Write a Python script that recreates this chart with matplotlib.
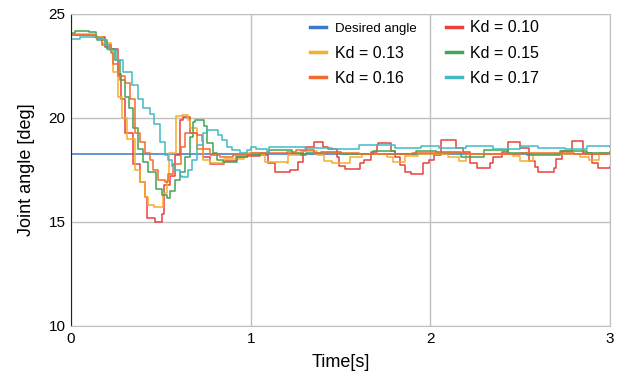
import matplotlib.pyplot as plt
import numpy as np

plt.rcParams['font.family'] = ['Liberation Sans', 'DejaVu Sans']

# desired angle [deg]
desired = 18.27

# Kd = 0.10
t_010 = [0, 0.13, 0.19, 0.22, 0.26, 0.28, 0.30, 0.345, 0.385, 0.41, 0.425, 0.465, 0.505,
         0.515, 0.55, 0.58, 0.605, 0.625, 0.66, 0.70, 0.735, 0.775, 0.85, 0.92, 0.98, 1.05,
         1.095, 1.135, 1.22, 1.265, 1.29, 1.31, 1.35, 1.40, 1.43, 1.48, 1.49, 1.525, 1.61,
         1.63, 1.67, 1.70, 1.71, 1.78, 1.80, 1.83, 1.86, 1.89, 1.96, 1.99, 2.02, 2.06, 2.14,
         2.18, 2.22, 2.26, 2.33, 2.35, 2.40, 2.43, 2.50, 2.55, 2.58, 2.60, 2.69, 2.70, 2.73,
         2.79, 2.85, 2.90, 2.93, 3.0]
y_010 = [24.0, 23.9, 23.4, 23.3, 22.1, 20.9, 19.3, 17.8, 16.9, 16.2, 15.2, 15.0, 15.4,
         16.8, 17.2, 18.2, 19.9, 20.05, 19.3, 18.5, 18.1, 17.8, 17.95, 18.1, 18.15, 18.2,
         17.85, 17.4, 17.5, 17.9, 18.4, 18.6, 18.85, 18.6, 18.5, 18.1, 17.7, 17.55, 17.85,
         18.0, 18.35, 18.7, 18.8, 18.4, 18.1, 17.75, 17.4, 17.3, 17.85, 18.0, 18.2, 18.95, 18.55,
         18.35, 17.85, 17.6, 17.85, 18.1, 18.35, 18.85, 18.55, 17.95, 17.65, 17.4, 17.6, 18.05, 18.4,
         18.9, 18.3, 17.85, 17.6, 17.65]

# Kd = 0.13
t_013 = [0, 0.13, 0.17, 0.22, 0.235, 0.26, 0.285, 0.31, 0.355, 0.385, 0.41, 0.43, 0.46,
         0.50, 0.51, 0.535, 0.545, 0.585, 0.62, 0.65, 0.66, 0.70, 0.735, 0.775, 0.85, 0.96,
         1.05, 1.08, 1.20, 1.21, 1.28, 1.37, 1.41, 1.45, 1.55, 1.62, 1.76, 1.79, 1.86, 1.93,
         2.10, 2.16, 2.20, 2.46, 2.50, 2.57, 2.83, 2.88, 2.94, 3.0]
y_013 = [24.05, 23.9, 23.6, 23.2, 22.2, 21.0, 20.0, 19.0, 17.5, 16.9, 16.2, 15.8, 15.7,
         15.7, 16.4, 17.0, 18.3, 20.1, 20.15, 19.9, 19.5, 18.5, 18.0, 17.85, 18.05, 18.3,
         18.2, 17.9, 17.85, 18.2, 18.4, 18.2, 17.95, 17.85, 18.1, 18.25, 18.1, 17.9, 18.15, 18.25,
         18.1, 17.95, 18.25, 18.15, 17.95, 18.25, 18.1, 18.0, 18.3, 18.35]

# Kd = 0.15
t_015 = [0, 0.02, 0.10, 0.14, 0.145, 0.20, 0.245, 0.27, 0.30, 0.32, 0.345, 0.375, 0.40,
         0.43, 0.47, 0.505, 0.535, 0.55, 0.58, 0.605, 0.635, 0.66, 0.68, 0.69, 0.74, 0.755,
         0.79, 0.81, 0.845, 0.925, 0.98, 1.05, 1.10, 1.23, 1.28, 1.31, 1.39, 1.50, 1.68, 1.80,
         1.92, 2.03, 2.17, 2.30, 2.43, 2.54, 2.72, 2.87, 3.0]
y_015 = [24.1, 24.2, 24.15, 23.95, 23.75, 23.3, 22.8, 21.8, 21.0, 20.5, 19.5, 18.5, 17.9,
         17.4, 16.6, 16.3, 16.15, 16.5, 17.0, 17.4, 18.1, 19.1, 19.8, 19.9, 19.6, 18.8,
         18.3, 18.0, 17.9, 18.1, 18.2, 18.3, 18.45, 18.3, 18.2, 18.3, 18.35, 18.25, 18.4, 18.25,
         18.4, 18.35, 18.1, 18.45, 18.3, 18.2, 18.4, 18.3, 18.35]

# Kd = 0.16
t_016 = [0, 0.06, 0.14, 0.17, 0.22, 0.235, 0.26, 0.30, 0.33, 0.355, 0.385, 0.41, 0.44,
         0.455, 0.485, 0.52, 0.54, 0.57, 0.61, 0.635, 0.70, 0.73, 0.735, 0.775, 0.83, 0.90,
         1.0, 1.2, 1.25, 1.35, 1.6, 1.9, 2.2, 2.5, 2.8, 3.0]
y_016 = [24.0, 24.0, 23.85, 23.5, 23.1, 22.6, 22.0, 21.7, 20.9, 19.3, 18.85, 18.3, 18.0,
         17.5, 17.0, 16.9, 17.3, 17.8, 18.6, 19.3, 19.2, 18.9, 18.5, 18.2, 18.1, 18.2,
         18.3, 18.35, 18.45, 18.3, 18.25, 18.3, 18.25, 18.3, 18.25, 18.35]

# Kd = 0.17
t_017 = [0, 0.05, 0.15, 0.19, 0.21, 0.255, 0.29, 0.34, 0.37, 0.40, 0.44, 0.46, 0.495,
         0.525, 0.54, 0.56, 0.58, 0.605, 0.62, 0.65, 0.675, 0.70, 0.735, 0.755, 0.81, 0.82,
         0.84, 0.87, 0.895, 0.94, 0.98, 1.0, 1.03, 1.09, 1.10, 1.30, 1.45, 1.60, 1.80, 1.95,
         2.05, 2.20, 2.35, 2.50, 2.60, 2.75, 2.87, 3.0]
y_017 = [23.8, 23.9, 23.8, 23.5, 23.25, 22.8, 22.2, 21.6, 20.9, 20.5, 20.2, 19.7, 18.85,
         18.2, 18.0, 17.7, 17.5, 17.2, 17.15, 17.5, 18.0, 18.7, 19.3, 19.4, 19.4, 19.2,
         18.95, 18.6, 18.45, 18.3, 18.45, 18.6, 18.5, 18.35, 18.6, 18.55, 18.5, 18.7, 18.55, 18.65,
         18.55, 18.65, 18.5, 18.65, 18.55, 18.5, 18.65, 18.6]

series = [
    ('Kd = 0.10', t_010, y_010, '#e8413e'),
    ('Kd = 0.13', t_013, y_013, '#f5ad2a'),
    ('Kd = 0.15', t_015, y_015, '#3fa652'),
    ('Kd = 0.16', t_016, y_016, '#f26b2d'),
    ('Kd = 0.17', t_017, y_017, '#3fbcc3'),
]

fig = plt.figure(figsize=(6.29, 3.76), dpi=100)
ax = fig.add_axes([0.113, 0.133, 0.857, 0.830])

lines = {}
lines['Desired angle'], = ax.plot([0, 3], [desired, desired], color='#3c78c8', lw=1.1)
for name, t, y, c in series:
    lines[name], = ax.plot(t, y, color=c, lw=1.1, drawstyle='steps-post')

ax.set_xlim(0, 3)
ax.set_ylim(10, 25)
ax.set_xticks([0, 1, 2, 3])
ax.set_yticks([10, 15, 20, 25])
ax.grid(True, color='#c0c0c0', lw=1)
ax.set_axisbelow(True)
ax.tick_params(length=0, labelsize=11, pad=4)
for s in ['top', 'right', 'bottom']:
    ax.spines[s].set_color('#c0c0c0')
ax.spines['left'].set_color('#222222')

ax.set_xlabel('Time[s]', fontsize=13, labelpad=6)
ax.set_ylabel('Joint angle [deg]', fontsize=13, labelpad=10)

order = ['Desired angle', 'Kd = 0.13', 'Kd = 0.16', 'Kd = 0.10', 'Kd = 0.15', 'Kd = 0.17']
leg = ax.legend([lines[k] for k in order], order, ncol=2, frameon=False,
                loc='upper left', bbox_to_anchor=(0.432, 1.0), borderaxespad=0,
                fontsize=11.5, handlelength=1.0, handletextpad=0.55,
                columnspacing=1.8, labelspacing=0.64)
for h in leg.legend_handles:
    h.set_linewidth(2.5)
leg.get_texts()[0].set_fontsize(9.5)

fig.savefig('out.png', dpi=100)
